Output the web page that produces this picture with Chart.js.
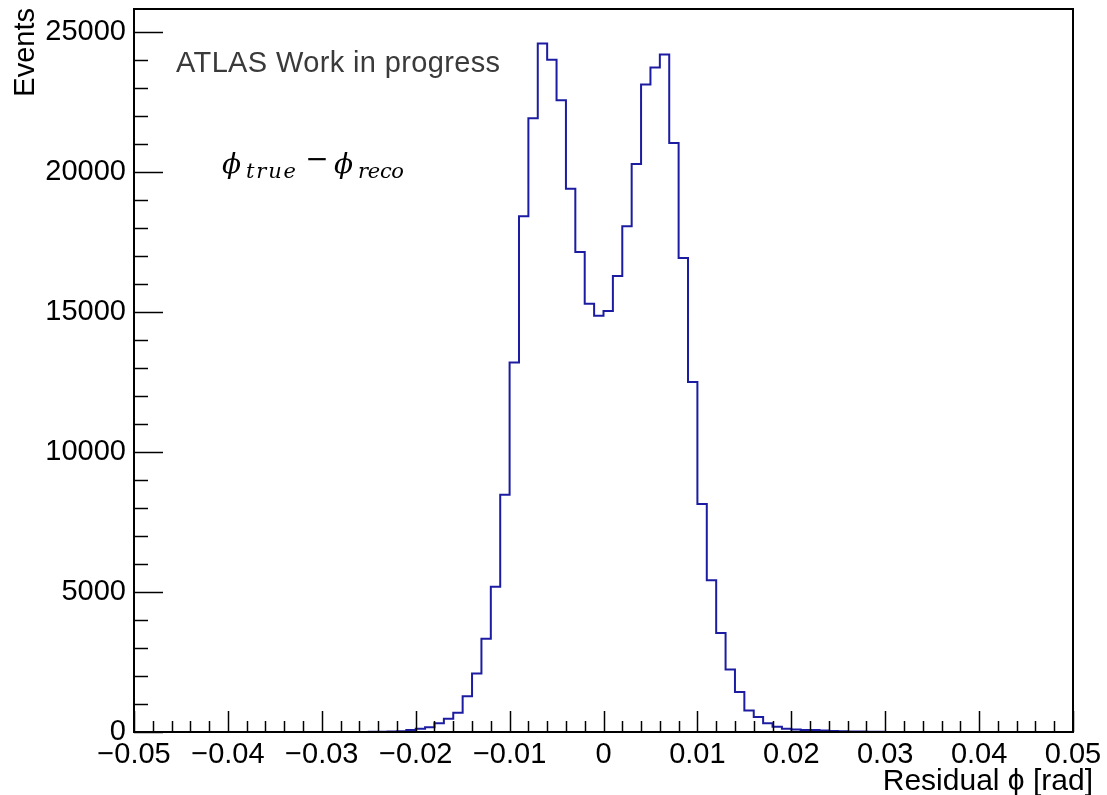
<!DOCTYPE html>
<html>
<head>
<meta charset="utf-8">
<script src="https://cdn.jsdelivr.net/npm/chart.js@4.4.1/dist/chart.umd.min.js"></script>
<style>
  html, body { margin: 0; padding: 0; background: #fff; }
</style>
</head>
<body>
<canvas id="residual" width="1107" height="795"></canvas>
<script>
// phi residual histogram: 100 bins of 0.001 rad between -0.05 and 0.05
var binLow = -0.05;
var binWidth = 0.001;
var counts = [
  0, 0, 0, 0, 0, 0, 0, 0, 0, 0,
  0, 0, 0, 0, 0, 0, 0, 0, 0, 0,
  0, 0, 0, 0, 0, 5, 10, 20, 30, 70,
  120, 170, 310, 470, 690, 1280, 2090, 3330, 5190, 8480,
  13200, 18430, 21930, 24600, 24020, 22570, 19410, 17150, 15300, 14870,
  15040, 16290, 18070, 20290, 23130, 23740, 24200, 21040, 16930, 12500,
  8150, 5420, 3540, 2230, 1430, 770, 540, 310, 190, 120,
  90, 70, 70, 50, 40, 30, 20, 15, 10, 5,
  0, 0, 0, 0, 0, 0, 0, 0, 0, 0,
  0, 0, 0, 0, 0, 0, 0, 0, 0, 0
];

var xTicks = [-0.05, -0.04, -0.03, -0.02, -0.01, 0, 0.01, 0.02, 0.03, 0.04, 0.05];
var xTickLabels = ['\u22120.05', '\u22120.04', '\u22120.03', '\u22120.02', '\u22120.01', '0',
                   '0.01', '0.02', '0.03', '0.04', '0.05'];
var yTicks = [0, 5000, 10000, 15000, 20000, 25000];
var yTickLabels = ['0', '5000', '10000', '15000', '20000', '25000'];
var yMax = 25830;

var xTitle = 'Residual \u03d5 [rad]';
var yTitle = 'Events';
var label = 'ATLAS Work in progress';

var FONT = '"Liberation Sans", Arial, Helvetica, sans-serif';
var LINE = '#1c1ca2';

// step outline: one point per bin low edge, closed back to zero at the top edge
var points = [{ x: binLow, y: 0 }];
for (var i = 0; i < counts.length; i++) {
  points.push({ x: binLow + i * binWidth, y: counts[i] });
}
points.push({ x: binLow + counts.length * binWidth, y: 0 });

// draw text so that it fills a given width, spreading the letters
function spread(ctx, text, x, y, width) {
  ctx.letterSpacing = '0px';
  var w = ctx.measureText(text).width;
  var gap = (width - w) / Math.max(text.length - 1, 1);
  ctx.letterSpacing = gap + 'px';
  ctx.fillText(text, x, y);
  ctx.letterSpacing = '0px';
}

var rootFrame = {
  id: 'rootFrame',
  afterDatasetsDraw: function(chart) {
    var ctx = chart.ctx;
    var a = chart.chartArea;
    var xs = chart.scales.x, ys = chart.scales.y;
    ctx.save();
    ctx.strokeStyle = '#000';
    ctx.lineWidth = 1.5;

    // inward ticks on the left axis
    for (var v = 0; v <= yMax; v += 1000) {
      var py = Math.round(ys.getPixelForValue(v)) + 0.5;
      var len = (v % 5000 === 0) ? 29 : 14;
      ctx.beginPath();
      ctx.moveTo(a.left, py);
      ctx.lineTo(a.left + len, py);
      ctx.stroke();
    }
    // inward ticks on the bottom axis
    for (var k = 0; k <= 50; k++) {
      var px = Math.round(xs.getPixelForValue(-0.05 + k * 0.002)) + 0.5;
      var l2 = (k % 5 === 0) ? 21 : 11;
      ctx.beginPath();
      ctx.moveTo(px, a.bottom);
      ctx.lineTo(px, a.bottom - l2);
      ctx.stroke();
    }

    ctx.lineWidth = 2;
    ctx.strokeRect(a.left, a.top, a.right - a.left, a.bottom - a.top);

    // axis titles
    ctx.fillStyle = '#000';
    ctx.font = '30px ' + FONT;
    ctx.textAlign = 'right';
    ctx.textBaseline = 'alphabetic';
    ctx.fillText(xTitle, a.right + 20, 790);

    ctx.save();
    ctx.font = '29px ' + FONT;
    ctx.translate(34, a.top - 1);
    ctx.rotate(-Math.PI / 2);
    ctx.textAlign = 'right';
    ctx.fillText(yTitle, 0, 0);
    ctx.restore();

    // label
    ctx.fillStyle = '#3a3a3a';
    ctx.textAlign = 'left';
    ctx.font = '29px ' + FONT;
    spread(ctx, label, a.left + 42, 72, 324);

    // phi_true - phi_reco
    ctx.fillStyle = '#000';
    var big = 'italic 28px "DejaVu Serif", "Liberation Serif", serif';
    var small = 'italic 21px "DejaVu Serif", "Liberation Serif", serif';
    ctx.font = big;
    ctx.fillText('\u03d5', 222, 173);
    ctx.font = small;
    spread(ctx, 'true', 246, 178, 50);
    ctx.font = '28px "DejaVu Serif", "Liberation Serif", serif';
    ctx.textAlign = 'center';
    ctx.textBaseline = 'middle';
    ctx.fillText('\u2212', 317, 161);
    ctx.textAlign = 'left';
    ctx.textBaseline = 'alphabetic';
    ctx.font = big;
    ctx.fillText('\u03d5', 334, 173);
    ctx.font = small;
    spread(ctx, 'reco', 358, 178, 46);

    ctx.restore();
  }
};

new Chart(document.getElementById('residual'), {
  type: 'line',
  data: {
    datasets: [{
      data: points,
      stepped: 'before',
      borderColor: LINE,
      borderWidth: 2,
      pointRadius: 0,
      fill: false
    }]
  },
  options: {
    responsive: false,
    animation: false,
    devicePixelRatio: 1,
    layout: { padding: { top: 9, right: 34, left: 0, bottom: 0 } },
    plugins: {
      legend: { display: false },
      tooltip: { enabled: false }
    },
    scales: {
      x: {
        type: 'linear',
        min: binLow,
        max: binLow + counts.length * binWidth,
        grid: { display: false, drawTicks: false },
        border: { display: false },
        afterBuildTicks: function(s) { s.ticks = xTicks.map(function(v) { return { value: v }; }); },
        afterFit: function(s) {
          s.height = 63;
          s.paddingLeft = 0;
          s.paddingRight = 0;
        },
        ticks: {
          autoSkip: false,
          maxRotation: 0,
          padding: 6,
          color: '#000',
          font: { family: FONT, size: 29 },
          callback: function(v, i) { return xTickLabels[i]; }
        }
      },
      y: {
        min: 0,
        max: yMax,
        grid: { display: false, drawTicks: false },
        border: { display: false },
        afterBuildTicks: function(s) { s.ticks = yTicks.map(function(v) { return { value: v }; }); },
        afterFit: function(s) {
          s.width = 134;
          s.paddingTop = 0;
          s.paddingBottom = 0;
        },
        ticks: {
          autoSkip: false,
          padding: 8,
          color: '#000',
          font: { family: FONT, size: 29 },
          callback: function(v, i) { return yTickLabels[i]; }
        }
      }
    }
  },
  plugins: [rootFrame]
});
</script>
</body>
</html>
